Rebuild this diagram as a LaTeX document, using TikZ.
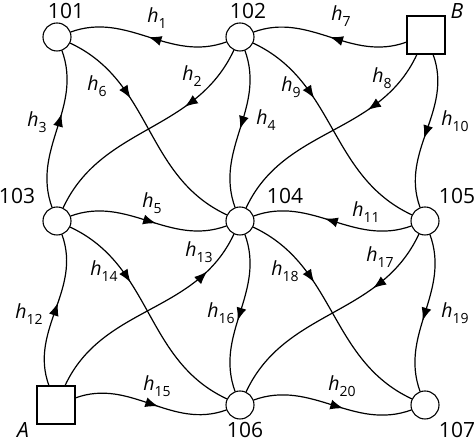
\documentclass[tikz,border=0pt]{standalone}
\usepackage{fontspec}
\setmainfont{Open Sans}
\usetikzlibrary{arrows.meta,decorations.markings}
\newcommand{\hlab}[1]{{\fontsize{19.5}{22}\selectfont\textit{h}\raisebox{-5.5pt}{\fontsize{14}{16}\selectfont #1}}}
\tikzset{
  vtx/.style={circle,draw,line width=1.1pt,minimum size=28pt,inner sep=0pt,fill=white},
  sqr/.style={rectangle,draw,line width=1.1pt,minimum size=38pt,inner sep=0pt,fill=white},
  edge/.style={line width=1.2pt},
  arrowat/.style={decoration={markings,mark=at position #1 with {\arrow{Latex[length=13pt,width=10pt]}}},postaction={decorate}},
  numlab/.style={font=\fontsize{21}{24}\selectfont,inner sep=0pt},
  hl/.style={inner sep=0pt}
}
\begin{document}
\begin{tikzpicture}[x=1pt,y=1pt]
\useasboundingbox (0,0) rectangle (474,443);
% nodes
\node[vtx] (n101) at (57,406) {};
\node[vtx] (n102) at (240,406) {};
\node[sqr] (B) at (426,408) {};
\node[vtx] (n103) at (57,222) {};
\node[vtx] (n104) at (240,222) {};
\node[vtx] (n105) at (425,222) {};
\node[sqr] (A) at (56,38) {};
\node[vtx] (n106) at (240,38) {};
\node[vtx] (n107) at (425,38) {};
% node labels
\node[numlab] (t101) at (66,432) {101};
\node[numlab] (t102) at (248,432) {102};
\node[numlab] (tB) at (457,432) {\textit{B}};
\node[numlab] (t103) at (17,247) {103};
\node[numlab] (t104) at (285,247) {104};
\node[numlab] (t105) at (457,247) {105};
\node[numlab,anchor=base] (tA) at (23,5.5) {\textit{A}};
\node[numlab,anchor=base] (t106) at (245,5.5) {106};
\node[numlab,anchor=base] (t107) at (457,5.5) {107};
% horizontal edges
\draw[edge,arrowat=0.5] (n102) to[out=200,in=20] (n101);
\draw[edge,arrowat=0.5] (B) to[out=200,in=20] (n102);
\draw[edge,arrowat=0.55] (n103) to[out=20,in=200] (n104);
\draw[edge,arrowat=0.55] (n105) to[out=200,in=20] (n104);
\draw[edge,arrowat=0.55] (A) to[out=20,in=200] (n106);
\draw[edge,arrowat=0.57] (n106) to[out=20,in=200] (n107);
% vertical edges
\draw[edge,arrowat=0.6] (n103) to[out=110,in=-70] (n101);
\draw[edge,arrowat=0.55] (A) to[out=110,in=-70] (n103);
\draw[edge,arrowat=0.5] (n102) to[out=-70,in=110] (n104);
\draw[edge,arrowat=0.55] (B) to[out=-70,in=110] (n105);
\draw[edge,arrowat=0.55] (n104) to[out=-70,in=110] (n106);
\draw[edge,arrowat=0.55] (n105) to[out=-70,in=110] (n107);
% diagonal edges
\draw[edge,arrowat=0.35] (n101) to[out=-25,in=155] (n104);
\draw[edge,arrowat=0.35] (n102) to[out=-25,in=155] (n105);
\draw[edge,arrowat=0.35] (n103) to[out=-25,in=155] (n106);
\draw[edge,arrowat=0.35] (n104) to[out=-25,in=155] (n107);
\draw[edge,arrowat=0.32] (n102) to[out=245,in=65] (n103);
\draw[edge,arrowat=0.32] (B) to[out=245,in=65] (n104);
\draw[edge,arrowat=0.3] (n105) to[out=245,in=65] (n106);
\draw[edge,arrowat=0.8] (A) to[out=65,in=245] (n104);
% edge labels
\node[hl] (l1) at (157,425) {\hlab{1}};
\node[hl] (l2) at (192,367) {\hlab{2}};
\node[hl] (l3) at (37,321) {\hlab{3}};
\node[hl] (l4) at (266,323) {\hlab{4}};
\node[hl] (l5) at (152,240) {\hlab{5}};
\node[hl] (l6) at (97,357) {\hlab{6}};
\node[hl] (l7) at (341,427) {\hlab{7}};
\node[hl] (l8) at (382,365) {\hlab{8}};
\node[hl] (l9) at (291,356) {\hlab{9}};
\node[hl] (l10) at (455,322) {\hlab{10}};
\node[hl] (l11) at (366,231) {\hlab{11}};
\node[hl] (l12) at (29,129) {\hlab{12}};
\node[hl] (l13) at (199,191) {\hlab{13}};
\node[hl] (l14) at (104,172) {\hlab{14}};
\node[hl] (l15) at (157,57) {\hlab{15}};
\node[hl] (l16) at (221,130) {\hlab{16}};
\node[hl] (l17) at (380,186) {\hlab{17}};
\node[hl] (l18) at (285,172) {\hlab{18}};
\node[hl] (l19) at (455,130) {\hlab{19}};
\node[hl] (l20) at (342,57) {\hlab{20}};
\end{tikzpicture}
\end{document}
